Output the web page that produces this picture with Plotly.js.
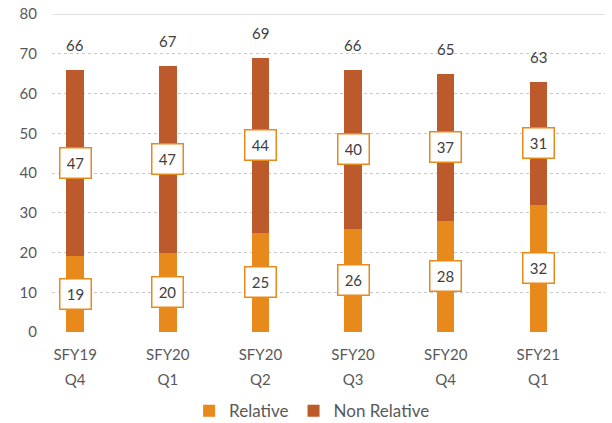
<!DOCTYPE html>
<html><head><meta charset="utf-8">
<script src="https://cdn.plot.ly/plotly-3.0.1.min.js"></script>
<style>body{margin:0;background:#fff}#chart{width:612px;height:423px}</style>
</head><body><div id="chart"></div>
<script>
const categories = [["SFY19","Q4"],["SFY20","Q1"],["SFY20","Q2"],["SFY20","Q3"],["SFY20","Q4"],["SFY21","Q1"]];
const relative = [19,20,25,26,28,32];
const nonRelative = [47,47,44,40,37,31];
const totals = [66,67,69,66,65,63];

const cRel = "#E8891B", cNon = "#BC5A2B";
const xIdx = categories.map((_, i) => i);
const font = "Lato, 'Open Sans', sans-serif";
const tickText = categories.map(c => c.map(s => "<span style='font-size:15px'>" + s + "</span>").join("<br>"));

const traces = [
  {type:"bar", name:"Relative", x:xIdx, y:relative, marker:{color:cRel}, width:0.19, hoverinfo:"none"},
  {type:"bar", name:"Non Relative", x:xIdx, y:nonRelative, marker:{color:cNon}, width:0.19, hoverinfo:"none"}
];

const boxStyle = {showarrow:false, bgcolor:"#fff", bordercolor:cRel, borderwidth:1.5, borderpad:0,
  width:30, height:29, font:{size:15,color:"#404040",family:font}};
const ann = [];
xIdx.forEach(i => {
  ann.push(Object.assign({x:i, y:relative[i]/2, text:String(relative[i])}, boxStyle));
  ann.push(Object.assign({x:i, y:relative[i]+nonRelative[i]/2, text:String(nonRelative[i])}, boxStyle));
  ann.push({x:i, y:totals[i], text:String(totals[i]), showarrow:false, yanchor:"bottom", yshift:14,
    font:{size:15,color:"#404040",family:font}});
});

const layout = {
  width:612, height:423,
  margin:{l:52, r:7, t:14, b:91},
  paper_bgcolor:"#fff", plot_bgcolor:"#fff",
  barmode:"stack",
  font:{family:font, size:15, color:"#595959"},
  xaxis:{range:[-0.25,5.72], tickmode:"array", tickvals:xIdx, ticktext:tickText,
    showgrid:false, zeroline:false, showline:false, ticks:"", fixedrange:true,
    ticklabelstandoff:7, tickfont:{size:19.5,color:"#595959"}},
  yaxis:{range:[0,80], dtick:10, showgrid:true, gridcolor:"#c8c8c8", griddash:"dot", gridwidth:1,
    zeroline:false, showline:false, ticks:"", ticklabelstandoff:14, tickfont:{size:15,color:"#595959"}},
  shapes:[{type:"line", xref:"paper", x0:0, x1:1, yref:"y", y0:80, y1:80, line:{color:"#d9d9d9", width:1.5}}],
  showlegend:true,
  legend:{orientation:"h", xref:"container", yref:"container", x:0.51, xanchor:"center", y:0.028, yanchor:"middle",
    font:{size:17,color:"#595959"}, itemwidth:30, traceorder:"normal"},
  annotations:ann
};
Plotly.newPlot("chart", traces, layout, {displayModeBar:false, staticPlot:true});
</script></body></html>
